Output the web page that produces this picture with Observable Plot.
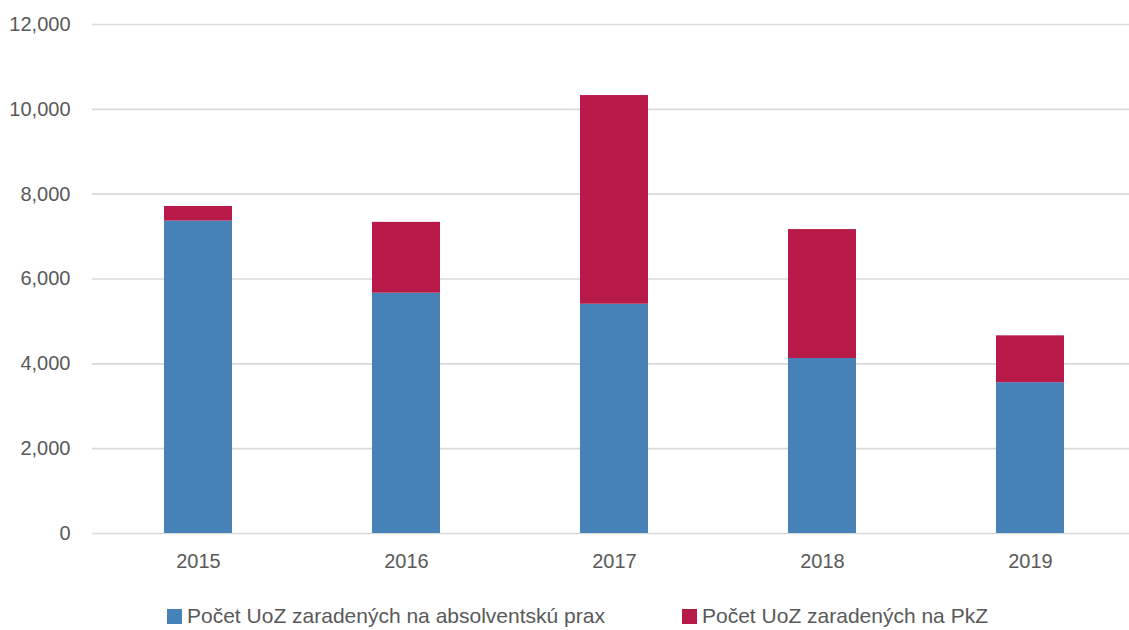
<!DOCTYPE html>
<html>
<head>
<meta charset="utf-8">
<script src="https://cdn.jsdelivr.net/npm/d3@7"></script>
<script src="https://cdn.jsdelivr.net/npm/@observablehq/plot@0.6"></script>
<style>
  html, body { margin: 0; padding: 0; background: #fff; }
  body { width: 1129px; height: 630px; overflow: hidden; font-family: "Liberation Sans", Arial, sans-serif; }
  #legend { position: absolute; top: 601px; left: 0; width: 1129px; color: #595959; font-size: 21px; line-height: 30px; }
  .item { display: flex; align-items: center; position: absolute; white-space: nowrap; }
  .sw { width: 15px; height: 15px; margin-right: 5px; display: inline-block; }
</style>
</head>
<body>
<div id="chart"></div>
<div id="legend"></div>
<script>
const years = ["2015", "2016", "2017", "2018", "2019"];
const seriesNames = ["Počet UoZ zaradených na absolventskú prax", "Počet UoZ zaradených na PkZ"];
const absolventskaPrax = [7365, 5665, 5405, 4125, 3555];
const pkz = [345, 1670, 4920, 3040, 1105];
const colors = ["#4682B8", "#B71A48"];
const yTicks = [0, 2000, 4000, 6000, 8000, 10000, 12000];

const data = [];
years.forEach((y, i) => {
  data.push({year: y, series: seriesNames[0], value: absolventskaPrax[i]});
  data.push({year: y, series: seriesNames[1], value: pkz[i]});
});

const fmt = d3.format(",");

const chart = Plot.plot({
  width: 1129,
  height: 580,
  marginTop: 24,
  marginBottom: 47,
  marginLeft: 92,
  marginRight: 0,
  style: {fontFamily: "'Liberation Sans', Arial, sans-serif", fontSize: "20px", color: "#595959", background: "#fff"},
  x: {domain: years, range: [91.6, 1135.6], paddingInner: 0.674, paddingOuter: 0.337, label: null},
  y: {domain: [0, 12000], ticks: yTicks, label: null},
  color: {domain: seriesNames, range: colors},
  marks: [
    Plot.ruleY(yTicks, {stroke: "#d9d9d9", strokeWidth: 1.6}),
    Plot.barY(data, Plot.stackY({x: "year", y: "value", fill: "series", order: seriesNames})),
    Plot.axisY({ticks: yTicks, tickSize: 0, tickPadding: 22, tickFormat: fmt, fill: "#595959", label: null}),
    Plot.axisX({tickSize: 0, tickPadding: 20, fill: "#595959", label: null})
  ]
});
document.getElementById("chart").appendChild(chart);

const legend = document.getElementById("legend");
const lefts = [167, 682];
seriesNames.forEach((name, i) => {
  const it = document.createElement("div");
  it.className = "item";
  it.style.left = lefts[i] + "px";
  const sw = document.createElement("span");
  sw.className = "sw";
  sw.style.background = colors[i];
  const t = document.createElement("span");
  t.textContent = name;
  it.appendChild(sw);
  it.appendChild(t);
  legend.appendChild(it);
});
</script>
</body>
</html>
